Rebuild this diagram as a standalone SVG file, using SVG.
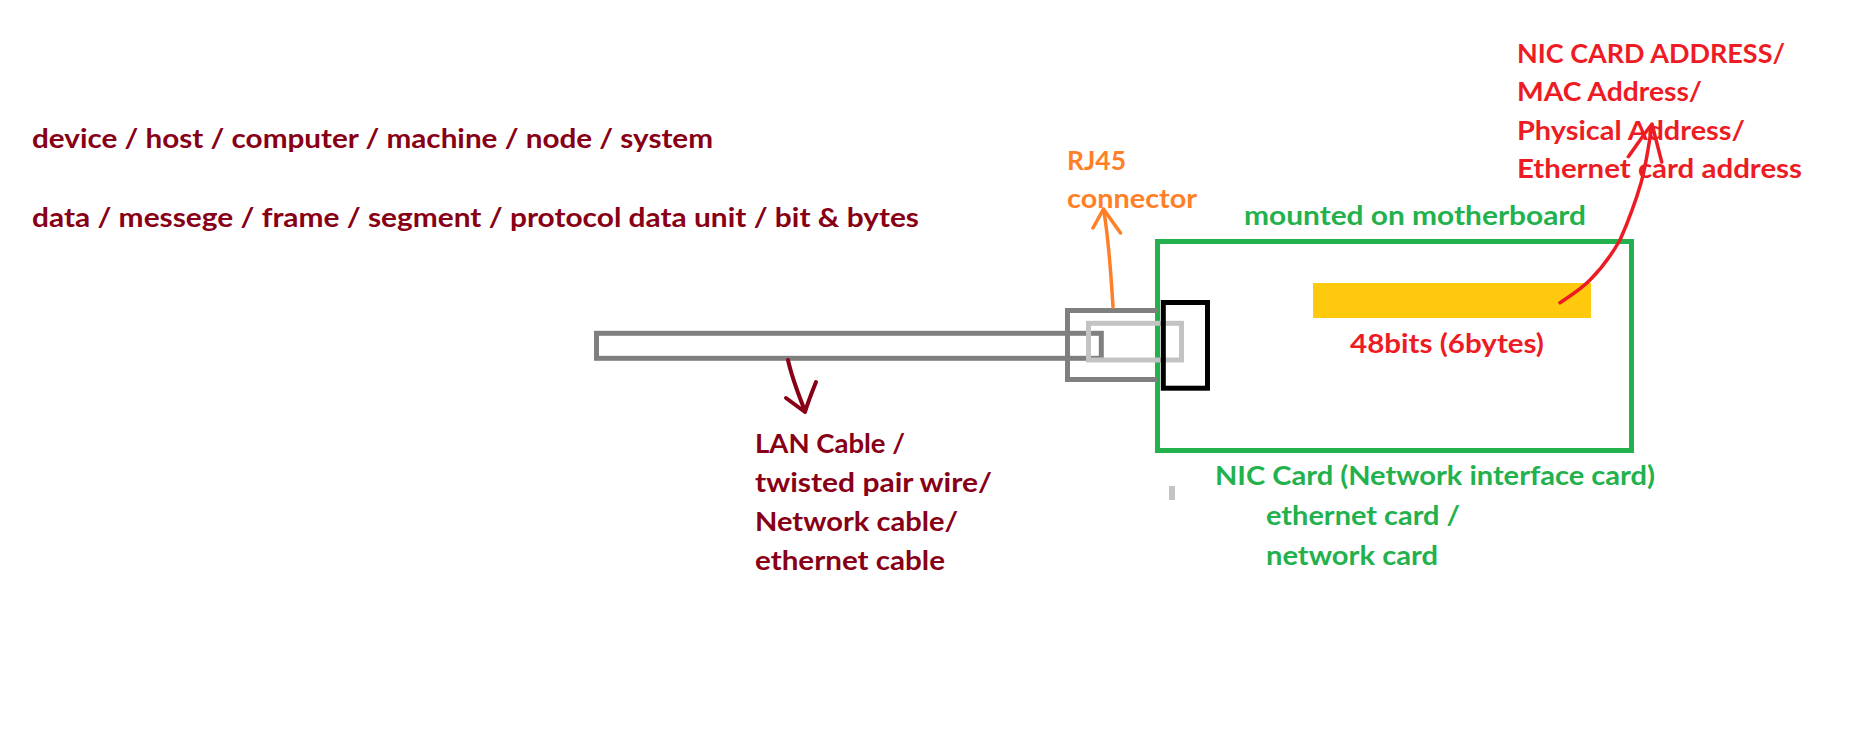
<svg xmlns="http://www.w3.org/2000/svg" width="1852" height="743" viewBox="0 0 1852 743">
<style>
text{font-family:Lato,"Liberation Sans",sans-serif;font-weight:bold;font-size:26px}
.dr{fill:#880015}.or{fill:#FF7F27}.gr{fill:#22B14C}.rd{fill:#ED1C24}
.box{fill:none;stroke-width:5}
.arr{fill:none;stroke-linecap:round;stroke-linejoin:round}
</style>
<rect width="1852" height="743" fill="#ffffff"/>
<g id="terms">
<text class="dr" x="32" y="148.3" textLength="681" lengthAdjust="spacingAndGlyphs">device / host / computer / machine / node / system</text>
<text class="dr" x="32" y="226.7" textLength="887" lengthAdjust="spacingAndGlyphs">data / messege / frame / segment / protocol data unit / bit &amp; bytes</text>
</g>
<g id="nic-card">
<rect class="box" x="1157.5" y="241.5" width="474" height="209" stroke="#22B14C"/>
<text class="gr" x="1244" y="225" textLength="342" lengthAdjust="spacingAndGlyphs">mounted on motherboard</text>
<text class="gr" x="1215" y="485" textLength="440" lengthAdjust="spacingAndGlyphs">NIC Card (Network interface card)</text>
<text class="gr" x="1266" y="525" textLength="194" lengthAdjust="spacingAndGlyphs">ethernet card /</text>
<text class="gr" x="1266" y="565" textLength="172" lengthAdjust="spacingAndGlyphs">network card</text>
</g>
<g id="cable">
<rect class="box" x="596.5" y="333.3" width="504.8" height="25" stroke="#7F7F7F"/>
<text class="dr" x="755" y="453" textLength="150" lengthAdjust="spacingAndGlyphs">LAN Cable /</text>
<text class="dr" x="755" y="492" textLength="237" lengthAdjust="spacingAndGlyphs">twisted pair wire/</text>
<text class="dr" x="755" y="531" textLength="203" lengthAdjust="spacingAndGlyphs">Network cable/</text>
<text class="dr" x="755" y="570" textLength="190" lengthAdjust="spacingAndGlyphs">ethernet cable</text>
</g>
<g id="rj45">
<polyline class="box" points="1157,310.5 1067.5,310.5 1067.5,379.5 1157,379.5" stroke="#7F7F7F"/>
<rect class="box" x="1088.5" y="323.3" width="93" height="36.7" stroke="#C3C3C3"/>
<text class="or" x="1067" y="170" textLength="59" lengthAdjust="spacingAndGlyphs">RJ45</text>
<text class="or" x="1067" y="208" textLength="130" lengthAdjust="spacingAndGlyphs">connector</text>
</g>
<g id="port">
<rect class="box" x="1163.3" y="302.5" width="44.2" height="85.7" stroke="#000000"/>
</g>
<g id="mac-chip">
<rect x="1313" y="283" width="278" height="35" fill="#FFC90E"/>
<text class="rd" x="1350" y="353" textLength="194" lengthAdjust="spacingAndGlyphs">48bits (6bytes)</text>
</g>
<g id="mac-labels">
<text class="rd" x="1517" y="63" textLength="268" lengthAdjust="spacingAndGlyphs">NIC CARD ADDRESS/</text>
<text class="rd" x="1517" y="101" textLength="185" lengthAdjust="spacingAndGlyphs">MAC Address/</text>
<text class="rd" x="1517" y="140" textLength="228" lengthAdjust="spacingAndGlyphs">Physical Address/</text>
<text class="rd" x="1517" y="178" textLength="285" lengthAdjust="spacingAndGlyphs">Ethernet card address</text>
</g>
<rect id="mark" x="1169" y="486" width="6" height="14" fill="#C3C3C3"/>
<g id="connectors">
<path class="arr" stroke="#880015" stroke-width="4" d="M788,360 C792,378 799,396 805,411 M786,398 L805,412 M816,382 C812,392 808,402 805,412"/>
<path class="arr" stroke="#FF7F27" stroke-width="3.5" d="M1113,307 C1111,275 1109,240 1103.5,209 M1093,228 L1103.5,209 L1120.5,233"/>
<path class="arr" stroke="#ED1C24" stroke-width="3.5" d="M1560,302.7 C1570,296 1580,290 1590,280 C1600,270 1612,254 1620,240 C1628,222 1636,200 1641,183 C1646,165 1649,145 1652,124 M1628.3,156.7 C1636,146 1644,134 1652,124 L1661.7,162"/>
</g>
</svg>
